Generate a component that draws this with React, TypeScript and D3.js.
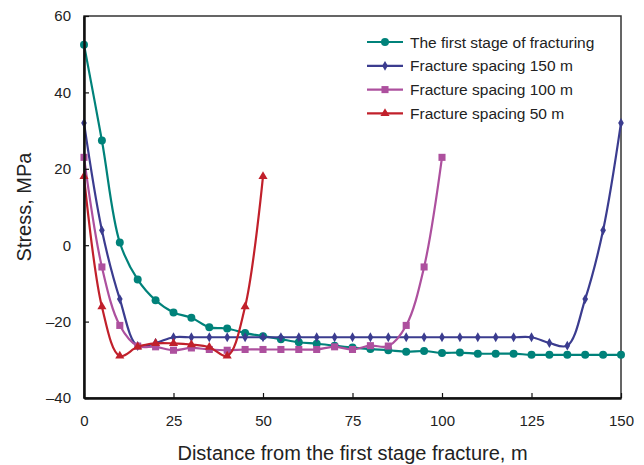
import { useEffect, useRef } from "react";
import * as d3 from "d3";

// distance (m) and stress (MPa)
const xFirst = [0, 5, 10, 15, 20, 25, 30, 35, 40, 45, 50, 55, 60, 65, 70, 75, 80, 85, 90, 95, 100, 105, 110, 115, 120, 125, 130, 135, 140, 145, 150];
const yFirst = [52.5, 27.4, 0.7, -9, -14.4, -17.6, -19, -21.5, -21.8, -23, -23.8, -24.6, -25.4, -25.8, -26.3, -26.8, -27.2, -27.5, -27.9, -27.7, -28.2, -28.1, -28.4, -28.4, -28.4, -28.7, -28.7, -28.7, -28.7, -28.7, -28.7];

const x150 = [0, 5, 10, 15, 20, 25, 30, 35, 40, 45, 50, 55, 60, 65, 70, 75, 80, 85, 90, 95, 100, 105, 110, 115, 120, 125, 130, 135, 140, 145, 150];
const y150 = [32, 3.9, -14.1, -26.4, -25.6, -24.1, -24.1, -24.1, -24.1, -24.1, -24.1, -24.1, -24.1, -24.1, -24.1, -24.1, -24.1, -24.1, -24.1, -24.1, -24.1, -24.1, -24.1, -24.1, -24.1, -24.1, -25.6, -26.3, -14.1, 3.9, 32];

const x100 = [0, 5, 10, 15, 20, 25, 30, 35, 40, 45, 50, 55, 60, 65, 70, 75, 80, 85, 90, 95, 100];
const y100 = [23, -5.7, -21, -26.4, -26.6, -27.5, -26.9, -27.3, -27.5, -27.3, -27.3, -27.3, -27.3, -27.3, -26.6, -27.3, -26.3, -26.4, -21, -5.7, 23];

const x50 = [0, 5, 10, 15, 20, 25, 30, 35, 40, 45, 50];
const y50 = [18, -16.1, -29, -26.6, -25.7, -25.7, -26, -26.7, -29, -16.1, 18];

const xTicks = [0, 25, 50, 75, 100, 125, 150];
const yTicks = [-40, -20, 0, 20, 40, 60];

const seriesNames = [
  "The first stage of fracturing",
  "Fracture spacing 150 m",
  "Fracture spacing 100 m",
  "Fracture spacing 50 m",
];

const FONT = "'Liberation Sans', Arial, sans-serif";

const Chart = () => {
  const svgRef = useRef<SVGSVGElement | null>(null);

  useEffect(() => {
    const width = 644;
    const height = 465;
    const m = { left: 84, right: 23, top: 16, bottom: 67 };

    const svg = d3.select(svgRef.current);
    svg.selectAll("*").remove();
    svg.attr("width", width).attr("height", height).style("background", "#fff");

    const x = d3.scaleLinear().domain([0, 150]).range([m.left, width - m.right]);
    const y = d3.scaleLinear().domain([-40, 60]).range([height - m.bottom, m.top]);

    const series = [
      { name: seriesNames[0], xs: xFirst, ys: yFirst, color: "#00827a", marker: "circle" },
      { name: seriesNames[1], xs: x150, ys: y150, color: "#3b3c8f", marker: "diamond" },
      { name: seriesNames[2], xs: x100, ys: y100, color: "#ad509e", marker: "square" },
      { name: seriesNames[3], xs: x50, ys: y50, color: "#c1202b", marker: "triangle" },
    ];

    const symbolFor = (marker: string) => {
      if (marker === "circle") return d3.symbol().type(d3.symbolCircle).size(50)();
      if (marker === "diamond") return d3.symbol().type(d3.symbolDiamond).size(28)();
      if (marker === "square") return d3.symbol().type(d3.symbolSquare).size(50)();
      return d3.symbol().type(d3.symbolTriangle).size(36)();
    };

    // frame
    svg
      .append("rect")
      .attr("x", x(0))
      .attr("y", y(60))
      .attr("width", x(150) - x(0))
      .attr("height", y(-40) - y(60))
      .attr("fill", "none")
      .attr("stroke", "#333")
      .attr("stroke-width", 1.5);

    const line = d3
      .line<[number, number]>()
      .x((d) => x(d[0]))
      .y((d) => y(d[1]))
      .curve(d3.curveCatmullRom.alpha(0.5));

    series.forEach((s) => {
      const pts: [number, number][] = s.xs.map((v, i) => [v, s.ys[i]]);
      svg
        .append("path")
        .attr("d", line(pts))
        .attr("fill", "none")
        .attr("stroke", s.color)
        .attr("stroke-width", 2.2);
      svg
        .append("g")
        .selectAll("path")
        .data(pts)
        .enter()
        .append("path")
        .attr("d", symbolFor(s.marker))
        .attr("transform", (d) => `translate(${x(d[0])},${y(d[1])})`)
        .attr("fill", s.color);
    });

    // axes
    const xAxis = svg
      .append("g")
      .attr("transform", `translate(0,${y(-40)})`)
      .call(
        d3
          .axisBottom(x)
          .tickValues(xTicks)
          .tickSizeInner(-5)
          .tickSizeOuter(0)
          .tickPadding(17)
      );
    const yAxis = svg
      .append("g")
      .attr("transform", `translate(${x(0)},0)`)
      .call(
        d3
          .axisLeft(y)
          .tickValues(yTicks)
          .tickSizeInner(-5)
          .tickSizeOuter(0)
          .tickPadding(13)
          .tickFormat((d) => {
            const v = d as number;
            return v < 0 ? `\u2013${-v}` : `${v}`;
          })
      );
    [xAxis, yAxis].forEach((g) => {
      g.select(".domain").attr("stroke", "#111").attr("stroke-width", 2.5);
      g.selectAll(".tick line").attr("stroke", "#111").attr("stroke-width", 1.2);
      g.selectAll(".tick text")
        .attr("fill", "#222")
        .style("font-family", FONT)
        .style("font-size", "15px");
    });

    // axis titles
    svg
      .append("text")
      .attr("x", (x(0) + x(150)) / 2)
      .attr("y", 460)
      .attr("text-anchor", "middle")
      .attr("fill", "#222")
      .style("font-family", FONT)
      .style("font-size", "20px")
      .text("Distance from the first stage fracture, m");
    svg
      .append("text")
      .attr("transform", `translate(31,${(y(60) + y(-40)) / 2}) rotate(-90)`)
      .attr("text-anchor", "middle")
      .attr("fill", "#222")
      .style("font-family", FONT)
      .style("font-size", "20px")
      .text("Stress, MPa");

    // legend
    const legend = svg.append("g").attr("transform", "translate(367,42)");
    series.forEach((s, i) => {
      const row = legend.append("g").attr("transform", `translate(0,${i * 23.8})`);
      row
        .append("line")
        .attr("x1", 0)
        .attr("x2", 36)
        .attr("stroke", s.color)
        .attr("stroke-width", 2.2);
      row.append("path").attr("d", symbolFor(s.marker)).attr("transform", "translate(18,0)").attr("fill", s.color);
      row
        .append("text")
        .attr("x", 43)
        .attr("y", 5.5)
        .attr("fill", "#222")
        .style("font-family", FONT)
        .style("font-size", "15.5px")
        .text(s.name);
    });
  }, []);

  return <svg ref={svgRef}></svg>;
};

export default function App() {
  return (
    <div style={{ position: "absolute", left: 0, top: 0 }}>
      <Chart />
    </div>
  );
}
